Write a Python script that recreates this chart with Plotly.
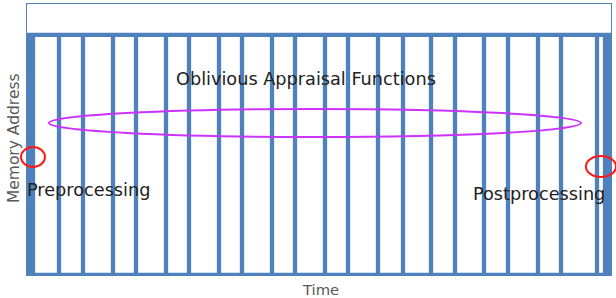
import plotly.graph_objects as go

# ---- data (time units, memory address normalized 0..1) ----
sweep_times = [2, 6, 32, 56, 86, 109, 139, 162, 192, 215, 245, 268, 298, 321,
               351, 376, 404, 428, 457, 481, 511, 534, 570, 578, 582]
address_low = 0.0
address_high = 1.0
time_start = 0
time_end = 584

labels = {
    "main": "Oblivious Appraisal Functions",
    "pre": "Preprocessing",
    "post": "Postprocessing",
}
x_title = "Time"
y_title = "Memory Address"

BLUE = "#4f81bd"
LW = 4.3

# vertical sweeps
vx, vy = [], []
for t in sweep_times:
    vx += [t, t, None]
    vy += [address_low, address_high, None]

fig = go.Figure()
fig.add_trace(go.Scatter(x=vx, y=vy, mode="lines",
                         line=dict(color=BLUE, width=LW), hoverinfo="skip"))
fig.add_trace(go.Scatter(x=[time_start, time_end, None, time_start, time_end],
                         y=[address_high, address_high, None, address_low, address_low],
                         mode="lines", line=dict(color=BLUE, width=LW), hoverinfo="skip"))

FONT = "DejaVu Sans"

fig.update_layout(
    width=616, height=298,
    margin=dict(l=27, r=5, t=4, b=23),
    paper_bgcolor="white", plot_bgcolor="white",
    showlegend=False,
    font=dict(family=FONT),
    xaxis=dict(range=[time_start, time_end], showticklabels=False, ticks="",
               showgrid=False, zeroline=False, showline=True, mirror=True,
               linecolor=BLUE, linewidth=1),
    yaxis=dict(range=[0, 1.129], showticklabels=False, ticks="",
               showgrid=False, zeroline=False, showline=True, mirror=True,
               linecolor=BLUE, linewidth=1),
)

# axis titles
fig.add_annotation(text=x_title, xref="paper", yref="paper", x=0.502, y=-0.055,
                   showarrow=False, xanchor="center", yanchor="middle",
                   font=dict(size=14.8, color="#595959", family=FONT))
fig.add_annotation(text=y_title, xref="paper", yref="paper", x=-0.0223, y=0.505,
                   showarrow=False, textangle=-90, xanchor="center", yanchor="middle",
                   font=dict(size=15.5, color="#595959", family=FONT))

# text labels
fig.add_annotation(text=labels["main"], x=279, y=0.8167, showarrow=False,
                   xanchor="center", yanchor="middle",
                   font=dict(size=17.7, color="#222222", family=FONT))
fig.add_annotation(text=labels["pre"], xref="paper", yref="paper",
                   x=-0.0034, y=0.3137, showarrow=False,
                   xanchor="left", yanchor="middle",
                   font=dict(size=17.7, color="#222222", family=FONT))
fig.add_annotation(text=labels["post"], x=444, y=0.3375, showarrow=False,
                   xanchor="left", yanchor="middle",
                   font=dict(size=17.7, color="#222222", family=FONT))

# highlight ellipses
fig.add_shape(type="circle", xref="paper", yref="paper",
              x0=0.0377, x1=0.9486, y0=0.5092, y1=0.6125,
              line=dict(color="#cc33ff", width=2))
fig.add_shape(type="circle", xref="paper", yref="paper",
              x0=-0.0103, x1=0.0308, y0=0.3985, y1=0.4723,
              line=dict(color="#ff1a1a", width=2))
fig.add_shape(type="circle", xref="paper", yref="paper",
              x0=0.957, x1=1.0086, y0=0.3616, y1=0.4391,
              line=dict(color="#ff1a1a", width=2))

fig.write_html("out.html", config={"displayModeBar": False},
               post_script="document.body.style.margin='0';")
